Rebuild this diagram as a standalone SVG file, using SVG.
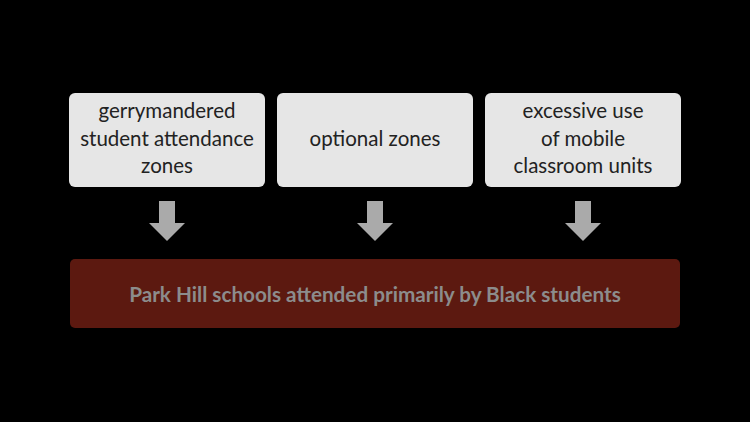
<svg xmlns="http://www.w3.org/2000/svg" width="750" height="422" viewBox="0 0 750 422">
<defs>
<style>
.box{fill:#e6e6e6;}
.t{font-family:Lato,"Open Sans","Liberation Sans",sans-serif;font-size:20.5px;fill:#222;text-anchor:middle;}
.bt{font-family:Lato,"Open Sans","Liberation Sans",sans-serif;font-size:20.7px;font-weight:bold;fill:#8c8c8c;text-anchor:middle;}
.arr{fill:#aaaaaa;}
</style>
<polygon id="down" points="-8,0 8,0 8,22 18,22 0,40 -18,22 -8,22"/>
</defs>
<rect width="750" height="422" fill="#000"/>
<g id="node-gerrymandered">
<rect class="box" x="69" y="93" width="196" height="94" rx="6"/>
<text class="t" x="167" y="118">gerrymandered</text>
<text class="t" x="167" y="146">student attendance</text>
<text class="t" x="167" y="173">zones</text>
</g>
<g id="node-optional">
<rect class="box" x="277" y="93" width="196" height="94" rx="6"/>
<text class="t" x="375" y="146">optional zones</text>
</g>
<g id="node-mobile">
<rect class="box" x="485" y="93" width="196" height="94" rx="6"/>
<text class="t" x="583" y="118">excessive use</text>
<text class="t" x="583" y="146">of mobile</text>
<text class="t" x="583" y="173">classroom units</text>
</g>
<g id="node-parkhill">
<rect x="70" y="259" width="610" height="69" rx="5" fill="#5c1910"/>
<text class="bt" x="375" y="302">Park Hill schools attended primarily by Black students</text>
</g>
<g id="connectors">
<use href="#down" class="arr" x="167" y="201"/>
<use href="#down" class="arr" x="375" y="201"/>
<use href="#down" class="arr" x="583" y="201"/>
</g>
</svg>
